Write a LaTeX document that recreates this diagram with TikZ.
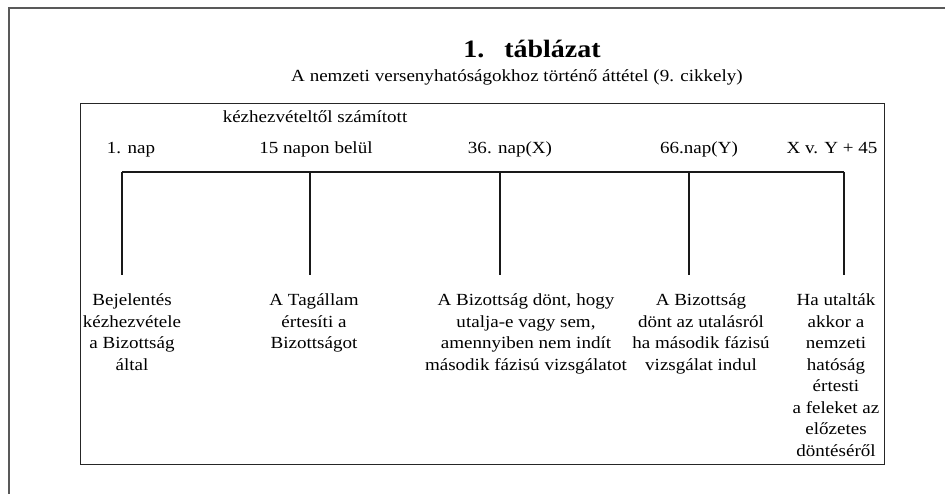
\documentclass[tikz,border=0pt]{standalone}
\usepackage{fontspec}
\setmainfont{Liberation Serif}[FakeStretch=1.12]
\usetikzlibrary{positioning}
\tikzset{
  pgframe/.style={draw=black!65, line width=1.4pt},
  tblframe/.style={draw=black!85, line width=1pt},
  tline/.style={draw=black!90, line width=1.2pt},
  daylbl/.style={anchor=base, inner sep=0pt, font=\fontsize{17}{21.5}\selectfont},
  evtxt/.style={anchor=north, inner sep=0pt, align=center,
    font=\fontsize{17}{21.5}\selectfont},
  captxt/.style={anchor=base, inner sep=0pt, font=\bfseries\fontsize{25}{29}\selectfont}
}

\begin{document}
\begin{tikzpicture}[x=1pt, y=-1pt]
  \useasboundingbox (0,0) rectangle (945,494);
  % page frame
  \draw[pgframe] (9,494) -- (9,8) -- (945,8);
  % caption
  \node[captxt] (cap) at (532,58) {1.\hspace{0.8em}táblázat};
  \node[daylbl] (subcap) at (517,82)
    {A nemzeti versenyhatóságokhoz történő áttétel (9. cikkely)};
  % table
  \draw[tblframe] (80,104) rectangle (884,464);
  \node[daylbl] (calc) at (315,123) {kézhezvételtől számított};
  \node[daylbl] (d1) at (131,154) {1. nap};
  \node[daylbl] (d2) at (316,154) {15 napon belül};
  \node[daylbl] (d3) at (510,154) {36. nap(X)};
  \node[daylbl] (d4) at (699,154) {66.nap(Y)};
  \node[daylbl] (d5) at (832,154) {X v. Y + 45};
  % time line
  \coordinate (b1) at (122,172);
  \coordinate (b2) at (310,172);
  \coordinate (b3) at (500,172);
  \coordinate (b4) at (689,172);
  \coordinate (b5) at (844,172);
  \draw[tline] (b1) -- (b5);
  % events
  \node[evtxt] (e1) at (132,293.5) {Bejelentés\\kézhezvétele\\a Bizottság\\által};
  \node[evtxt] (e2) at (314,293.5) {A Tagállam\\értesíti a\\Bizottságot};
  \node[evtxt] (e3) at (526,293.5)
    {A Bizottság dönt, hogy\\utalja-e vagy sem,\\amennyiben nem indít\\második fázisú vizsgálatot};
  \node[evtxt] (e4) at (701,293.5)
    {A Bizottság\\dönt az utalásról\\ha második fázisú\\vizsgálat indul};
  \node[evtxt] (e5) at (836,293.5)
    {Ha utalták\\akkor a\\nemzeti\\hatóság\\értesti\\a feleket az\\előzetes\\döntéséről};
  \foreach \i in {1,...,5}
    \draw[tline, shorten >=18pt] (b\i) -- (b\i |- e\i.north);
\end{tikzpicture}
\end{document}
